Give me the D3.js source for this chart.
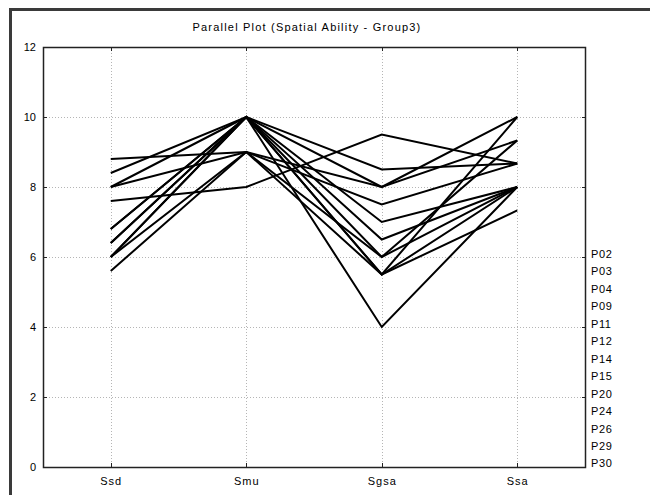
<!DOCTYPE html>
<html>
<head>
<meta charset="utf-8">
<script src="https://cdn.jsdelivr.net/npm/d3@7"></script>
<style>
  body { margin: 0; background: #fff; }
  text { font-family: "Liberation Sans", Arial, sans-serif; }
</style>
</head>
<body>
<svg id="chart" width="650" height="495"></svg>
<script>
// --- data ---
const variables = ['Ssd', 'Smu', 'Sgsa', 'Ssa'];
const participants = ['P02', 'P03', 'P04', 'P09', 'P11', 'P12', 'P14', 'P15', 'P20', 'P24', 'P26', 'P29', 'P30'];
const ssd  = [7.6, 8.4, 8.0, 8.8, 8.0, 6.8, 6.4, 6.0, 6.8, 6.4, 6.0, 5.6, 6.0];
const smu  = [8, 10, 10, 9, 9, 10, 10, 9, 10, 10, 10, 9, 10];
const sgsa = [9.5, 8.5, 8.0, 8.0, 7.5, 7.0, 6.5, 6.0, 6.0, 5.5, 5.5, 5.5, 4.0];
const ssa  = [8.67, 8.67, 10, 9.33, 8.67, 8.0, 8.0, 8.0, 9.33, 10, 8.0, 7.33, 8.0];
const yTicks = [0, 2, 4, 6, 8, 10, 12];
const title = 'Parallel Plot (Spatial Ability - Group3)';

const rows = participants.map((p, i) => ({ id: p, values: [ssd[i], smu[i], sgsa[i], ssa[i]] }));

const svg = d3.select('#chart');

// outer window frame (only top/left edges visible)
svg.append('path')
  .attr('d', 'M10.5,495 L10.5,9.5 L650,9.5')
  .attr('fill', 'none').attr('stroke', '#3a3a3a').attr('stroke-width', 3);

const L = 43, R = 585, T = 47, B = 467;

const x = d3.scalePoint().domain(variables).range([L, R]).padding(0.5);
const y = d3.scaleLinear().domain([0, 12]).range([B, T]);

// grid
const grid = svg.append('g');
yTicks.filter(t => t > 0 && t < 12).forEach(t => {
  grid.append('line')
    .attr('x1', L).attr('x2', R).attr('y1', y(t) + 0.5).attr('y2', y(t) + 0.5)
    .attr('stroke', '#b5b5b5').attr('stroke-dasharray', '1,2');
});
variables.forEach(v => {
  grid.append('line')
    .attr('x1', Math.round(x(v)) + 0.5).attr('x2', Math.round(x(v)) + 0.5)
    .attr('y1', T).attr('y2', B)
    .attr('stroke', '#b5b5b5').attr('stroke-dasharray', '1,2');
});

// lines
const line = d3.line()
  .x((d, i) => x(variables[i]))
  .y(d => y(d));

svg.append('g').selectAll('path')
  .data(rows)
  .join('path')
  .attr('d', d => line(d.values))
  .attr('fill', 'none')
  .attr('stroke', '#000')
  .attr('stroke-width', 2)
  .attr('stroke-linejoin', 'miter');

// plot frame
svg.append('rect')
  .attr('x', L + 0.5).attr('y', T + 0.5)
  .attr('width', R - L).attr('height', B - T)
  .attr('fill', 'none').attr('stroke', '#222').attr('stroke-width', 1.5);

// ticks inside frame
const ticks = svg.append('g').attr('stroke', '#222');
yTicks.forEach(t => {
  ticks.append('line').attr('x1', L).attr('x2', L + 4).attr('y1', y(t) + 0.5).attr('y2', y(t) + 0.5);
  ticks.append('line').attr('x1', R - 3).attr('x2', R + 1).attr('y1', y(t) + 0.5).attr('y2', y(t) + 0.5);
});
variables.forEach(v => {
  const xx = Math.round(x(v)) + 0.5;
  ticks.append('line').attr('x1', xx).attr('x2', xx).attr('y1', B).attr('y2', B - 4);
  ticks.append('line').attr('x1', xx).attr('x2', xx).attr('y1', T).attr('y2', T + 4);
});

// y labels
svg.append('g').selectAll('text')
  .data(yTicks)
  .join('text')
  .attr('x', 36)
  .attr('y', d => y(d) + 4)
  .attr('text-anchor', 'end')
  .attr('font-size', 11)
  .attr('fill', '#000')
  .text(d => d);

// x labels
svg.append('g').selectAll('text')
  .data(variables)
  .join('text')
  .attr('x', d => x(d) + 0.5)
  .attr('y', 485)
  .attr('text-anchor', 'middle')
  .attr('font-size', 11)
  .attr('letter-spacing', 1)
  .attr('fill', '#000')
  .text(d => d);

// legend labels
svg.append('g').selectAll('text')
  .data(participants)
  .join('text')
  .attr('x', 591)
  .attr('y', (d, i) => 258 + i * 17.45)
  .attr('font-size', 11)
  .attr('letter-spacing', 0.6)
  .attr('fill', '#000')
  .text(d => d);

// title
svg.append('text')
  .attr('x', 307).attr('y', 31)
  .attr('text-anchor', 'middle')
  .attr('font-size', 11)
  .attr('letter-spacing', 1.2)
  .attr('fill', '#000')
  .text(title);
</script>
</body>
</html>
